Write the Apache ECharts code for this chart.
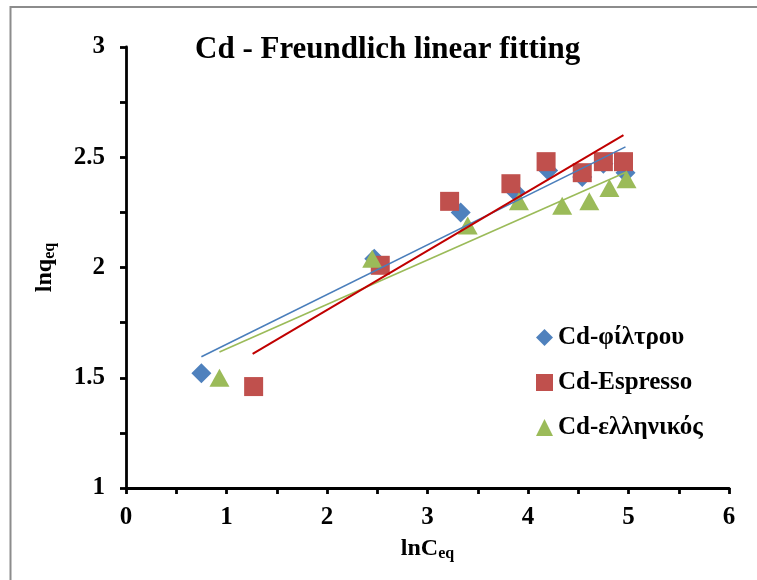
<!DOCTYPE html>
<html>
<head>
<meta charset="utf-8">
<script src="https://cdn.jsdelivr.net/npm/echarts@6/dist/echarts.min.js"></script>
<style>
html,body{margin:0;padding:0;background:#fff;}
#chart{width:757px;height:580px;}
</style>
</head>
<body>
<div id="chart"></div>
<script>
// Data
var seriesNames = ['Cd-φίλτρου', 'Cd-Espresso', 'Cd-ελληνικός'];
var filtrouX = [0.75, 2.47, 3.33, 3.88, 4.20, 4.54, 4.75, 4.97];
var filtrouY = [1.52, 2.04, 2.25, 2.34, 2.44, 2.41, 2.47, 2.43];
var espressoX = [1.27, 2.53, 3.22, 3.83, 4.18, 4.54, 4.75, 4.95];
var espressoY = [1.46, 2.01, 2.30, 2.38, 2.48, 2.43, 2.48, 2.48];
var ellinikosX = [0.93, 2.45, 3.40, 3.91, 4.34, 4.61, 4.81, 4.98];
var ellinikosY = [1.50, 2.04, 2.19, 2.30, 2.28, 2.30, 2.36, 2.40];
// Linear fit lines (end points)
var fitFiltrouX = [0.75, 4.97];
var fitFiltrouY = [1.595, 2.547];
var fitEspressoX = [1.26, 4.95];
var fitEspressoY = [1.608, 2.60];
var fitEllinikosX = [0.93, 4.98];
var fitEllinikosY = [1.617, 2.433];
var xTicks = [0, 1, 2, 3, 4, 5, 6];
var yTicks = [1, 1.5, 2, 2.5, 3];

function pairs(xs, ys) { return xs.map(function (x, i) { return [x, ys[i]]; }); }

var FONT = '"Liberation Serif", "DejaVu Serif", serif';
var colors = ['#4F81BD', '#C0504D', '#9BBB59'];

var chart = echarts.init(document.getElementById('chart'));
chart.setOption({
  animation: false,
  backgroundColor: '#fff',
  graphic: [{
    type: 'rect', silent: true, z: -10,
    shape: { x: 10.5, y: 7, width: 800, height: 620 },
    style: { fill: '#fff', stroke: '#8c8c8c', lineWidth: 2 }
  }],
  title: {
    text: 'Cd - Freundlich linear fitting',
    left: 190, top: 29,
    textStyle: { fontFamily: FONT, fontWeight: 'bold', fontSize: 31, color: '#000' }
  },
  legend: {
    data: [
      { name: seriesNames[0], icon: 'diamond' },
      { name: seriesNames[1], icon: 'rect' },
      { name: seriesNames[2], icon: 'triangle' }
    ],
    orient: 'vertical',
    left: 531, top: 320,
    itemWidth: 17, itemHeight: 17, itemGap: 20,
    textStyle: { fontFamily: FONT, fontWeight: 'bold', fontSize: 25, color: '#000' }
  },
  grid: { left: 126, right: 28, top: 47, bottom: 92, containLabel: false },
  xAxis: {
    type: 'value', min: xTicks[0], max: xTicks[xTicks.length - 1], interval: 1,
    name: '{a|lnC}{b|eq}', nameLocation: 'middle', nameGap: 47,
    nameTextStyle: {
      rich: {
        a: { fontFamily: FONT, fontWeight: 'bold', fontSize: 24, color: '#000' },
        b: { fontFamily: FONT, fontWeight: 'bold', fontSize: 16, color: '#000', padding: [11, 0, 0, 0] }
      }
    },
    axisLine: { show: true, lineStyle: { color: '#000', width: 2.8 } },
    axisTick: { show: true, inside: false, length: 6, lineStyle: { color: '#000', width: 2.8 } },
    minorTick: { show: true, splitNumber: 2, length: 6, lineStyle: { color: '#000', width: 2.8 } },
    splitLine: { show: false },
    axisLabel: { margin: 17, fontFamily: FONT, fontWeight: 'bold', fontSize: 25, color: '#000' }
  },
  yAxis: {
    type: 'value', min: yTicks[0], max: yTicks[yTicks.length - 1], interval: 0.5,
    name: '{a|lnq}{b|eq}', nameLocation: 'middle', nameGap: 68, nameRotate: 90,
    nameTextStyle: {
      rich: {
        a: { fontFamily: FONT, fontWeight: 'bold', fontSize: 24, color: '#000' },
        b: { fontFamily: FONT, fontWeight: 'bold', fontSize: 16, color: '#000', padding: [11, 0, 0, 0] }
      }
    },
    axisLine: { show: true, lineStyle: { color: '#000', width: 2.8 } },
    axisTick: { show: true, inside: false, length: 6, lineStyle: { color: '#000', width: 2.8 } },
    minorTick: { show: true, splitNumber: 2, length: 6, lineStyle: { color: '#000', width: 2.8 } },
    splitLine: { show: false },
    axisLabel: { margin: 21, fontFamily: FONT, fontWeight: 'bold', fontSize: 25, color: '#000' }
  },
  series: [
    { name: seriesNames[0], type: 'scatter', symbol: 'diamond', symbolSize: 20, z: 2,
      itemStyle: { color: colors[0], opacity: 1 }, data: pairs(filtrouX, filtrouY) },
    { name: seriesNames[1], type: 'scatter', symbol: 'rect', symbolSize: 19, z: 3,
      itemStyle: { color: colors[1], opacity: 1 }, data: pairs(espressoX, espressoY) },
    { name: seriesNames[2], type: 'scatter', symbol: 'triangle', symbolSize: [20, 18], z: 4,
      itemStyle: { color: colors[2], opacity: 1 }, data: pairs(ellinikosX, ellinikosY) },
    { name: 'fit1', type: 'line', symbol: 'none', z: 5, silent: true,
      lineStyle: { color: '#4A7EBB', width: 1.6 }, data: pairs(fitFiltrouX, fitFiltrouY) },
    { name: 'fit2', type: 'line', symbol: 'none', z: 6, silent: true,
      lineStyle: { color: '#C00000', width: 2 }, data: pairs(fitEspressoX, fitEspressoY) },
    { name: 'fit3', type: 'line', symbol: 'none', z: 5, silent: true,
      lineStyle: { color: '#9BBB59', width: 1.6 }, data: pairs(fitEllinikosX, fitEllinikosY) }
  ]
});
</script>
</body>
</html>
